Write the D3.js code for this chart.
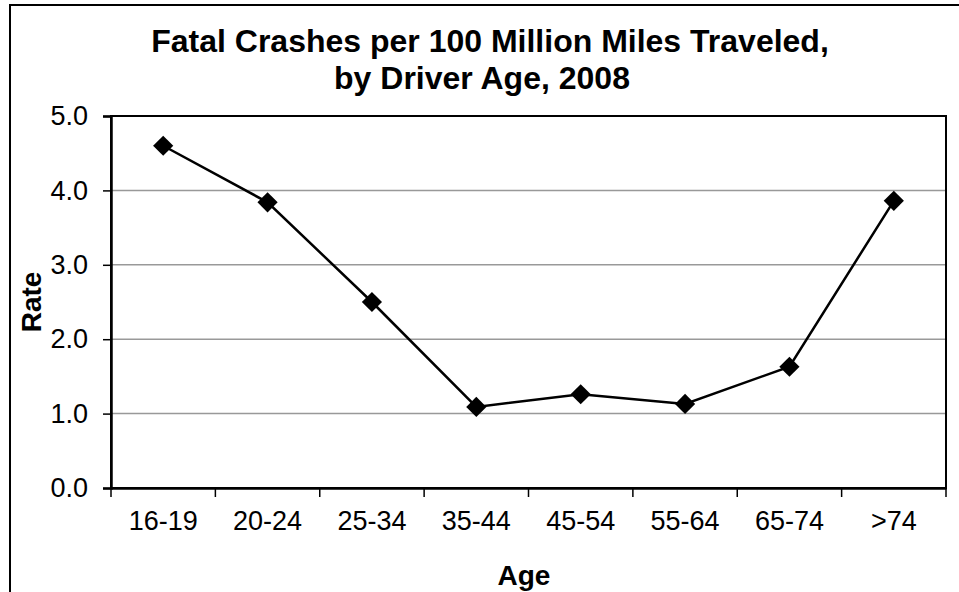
<!DOCTYPE html>
<html>
<head>
<meta charset="utf-8">
<script src="https://cdn.jsdelivr.net/npm/d3@7"></script>
<style>
  body { margin: 0; background: #fff; }
  text { font-family: "Liberation Sans", Arial, sans-serif; fill: #000; }
</style>
</head>
<body>
<script>
// data
var ageGroups = ["16-19", "20-24", "25-34", "35-44", "45-54", "55-64", "65-74", ">74"];
var rates = [4.6, 3.84, 2.5, 1.09, 1.26, 1.13, 1.63, 3.86];
var yTicks = [0, 1, 2, 3, 4, 5];
var titleLines = ["Fatal Crashes per 100 Million Miles Traveled,", "by Driver Age, 2008"];

// plot area
var LEFT = 111, TOP = 116, RIGHT = 946, BOTTOM = 488;

var svg = d3.select("body").append("svg")
  .attr("width", 959).attr("height", 592);

// outer chart border (runs off right / bottom)
svg.append("rect")
  .attr("x", 10).attr("y", 5).attr("width", 1000).attr("height", 700)
  .attr("fill", "none").attr("stroke", "#000").attr("stroke-width", 2);

var x = d3.scaleBand().domain(ageGroups).range([LEFT, RIGHT]);
var y = d3.scaleLinear().domain([0, 5]).range([BOTTOM, TOP]);

// gridlines
svg.append("g").selectAll("line").data(yTicks.slice(1, -1)).enter().append("line")
  .attr("x1", LEFT).attr("x2", RIGHT)
  .attr("y1", function (d) { return y(d); }).attr("y2", function (d) { return y(d); })
  .attr("stroke", "#999").attr("stroke-width", 1.5);

// plot frame
svg.append("rect")
  .attr("x", LEFT).attr("y", TOP).attr("width", RIGHT - LEFT).attr("height", BOTTOM - TOP)
  .attr("fill", "none").attr("stroke", "#000").attr("stroke-width", 2);

// y axis
var yAxis = d3.axisLeft(y).tickValues(yTicks).tickFormat(d3.format(".1f"))
  .tickSize(8).tickPadding(15);
var yg = svg.append("g").attr("transform", "translate(" + LEFT + ",0)").call(yAxis);
yg.select(".domain").attr("stroke", "#000").attr("stroke-width", 2.5);
yg.selectAll(".tick line").attr("stroke", "#000").attr("stroke-width", 1.5);
yg.selectAll(".tick text").style("font-size", "27px").attr("font-family", "Liberation Sans, Arial, sans-serif");

// x axis: ticks at band edges
var xAxis = d3.axisBottom(x).tickSize(0).tickPadding(23);
var xg = svg.append("g").attr("transform", "translate(0," + BOTTOM + ")").call(xAxis);
xg.select(".domain").attr("stroke", "#000").attr("stroke-width", 2.5);
xg.selectAll(".tick text").style("font-size", "27px").attr("font-family", "Liberation Sans, Arial, sans-serif");
var edges = ageGroups.map(function (d) { return x(d); }).concat([RIGHT]);
xg.selectAll(".edge").data(edges).enter().append("line")
  .attr("x1", function (d) { return d; }).attr("x2", function (d) { return d; })
  .attr("y1", 0).attr("y2", 9)
  .attr("stroke", "#000").attr("stroke-width", 1.5);

// line + markers
var cx = function (d, i) { return x(ageGroups[i]) + x.bandwidth() / 2; };
var line = d3.line().x(cx).y(function (d) { return y(d); });
svg.append("path").datum(rates)
  .attr("d", line).attr("fill", "none").attr("stroke", "#000").attr("stroke-width", 2.5);
svg.append("g").selectAll("path").data(rates).enter().append("path")
  .attr("d", d3.symbol().type(d3.symbolDiamond2).size(260))
  .attr("transform", function (d, i) { return "translate(" + cx(d, i) + "," + y(d) + ")"; })
  .attr("fill", "#000");

// title
svg.append("text").attr("x", 490).attr("y", 52).attr("text-anchor", "middle")
  .style("font-size", "32px").style("font-weight", "bold").text(titleLines[0]);
svg.append("text").attr("x", 482).attr("y", 89).attr("text-anchor", "middle")
  .style("font-size", "32px").style("font-weight", "bold").text(titleLines[1]);

// axis titles
svg.append("text").attr("transform", "translate(41,302) rotate(-90)")
  .attr("text-anchor", "middle")
  .style("font-size", "28px").style("font-weight", "bold").text("Rate");
svg.append("text").attr("x", 524).attr("y", 585).attr("text-anchor", "middle")
  .style("font-size", "28px").style("font-weight", "bold").text("Age");
</script>
</body>
</html>
